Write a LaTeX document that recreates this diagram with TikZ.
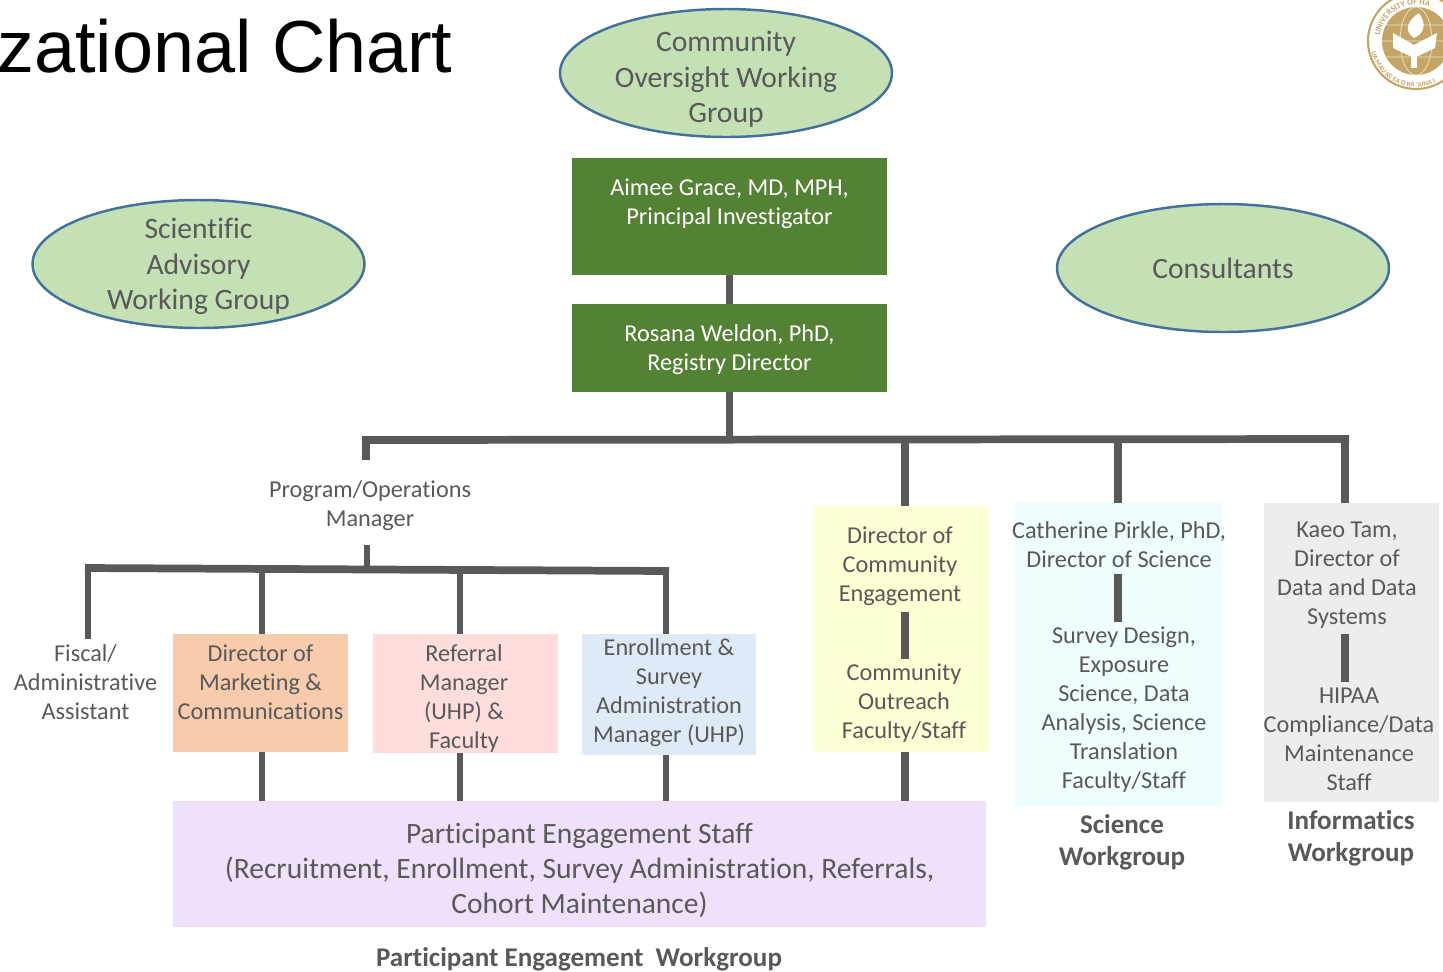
\documentclass[tikz,border=0pt]{standalone}
\usepackage{fontspec}
\setmainfont[Ligatures=NoCommon]{Carlito}
\newfontfamily\titlefont{Liberation Sans}
\usetikzlibrary{shapes.geometric,decorations.text}
\definecolor{linegray}{HTML}{595959}
\definecolor{txtgray}{HTML}{595959}
\definecolor{ovalgreen}{HTML}{C5E0B4}
\definecolor{ovalblue}{HTML}{41719C}
\definecolor{pigreen}{HTML}{548235}
\definecolor{mktorange}{HTML}{F8CBAD}
\definecolor{refpink}{HTML}{FFDDDD}
\definecolor{enrblue}{HTML}{DEEAF6}
\definecolor{comyellow}{HTML}{FFFFD5}
\definecolor{scicyan}{HTML}{F0FDFE}
\definecolor{infgray}{HTML}{EDEDED}
\definecolor{staffviolet}{HTML}{EFE1FC}
\definecolor{sealgold}{HTML}{C4A566}
\newcommand{\pxu}{*0.5691pt}
\tikzset{
  oval/.style={ellipse,draw=ovalblue,line width=1.4pt,fill=ovalgreen,minimum width=332\pxu,minimum height=128\pxu,inner sep=0pt},
  ovaltxt/.style={inner sep=0pt,text=txtgray,align=center,font=\fontsize{16.85}{20.2}\selectfont},
  txt/.style={inner xsep=0pt,inner ysep=3pt,text=txtgray,align=center,font=\fontsize{13.8}{16.5}\selectfont},
  headbox/.style={fill=pigreen,minimum width=315\pxu,inner sep=0pt},
  headtxt/.style={txt,text=white},
  colbox/.style={minimum width=#1\pxu,inner sep=0pt},
  wkgroup/.style={txt,font=\bfseries\fontsize{15.4}{18.2}\selectfont},
  bar/.style={draw=linegray,line width=4.4pt},
  thinbar/.style={draw=linegray,line width=3.4pt}
}
\begin{document}
\begin{tikzpicture}[x=0.02cm,y=-0.02cm]
                \useasboundingbox (0,0) rectangle (1443,971);
                \clip (0,0) rectangle (1443,971);
                \node[inner sep=0pt,anchor=base west,font=\titlefont\fontsize{42}{50}\selectfont] (title) at (-3,72) {zational Chart};
                \node[oval,label={[ovaltxt,yshift=-3.7pt]center:{Community\\Oversight Working\\Group}}] (oversight) at (726,73) {};
                \node[oval,label={[ovaltxt,yshift=-1.4pt]center:{Scientific\\Advisory\\Working Group}}] (advisory) at (198.5,264) {};
                \node[oval,label={[ovaltxt]center:Consultants}] (consult) at (1223,268) {};
                \node[headbox,minimum height=117\pxu,label={[headtxt,yshift=7.4pt]center:{Aimee Grace, MD, MPH,\\Principal Investigator}}] (grace) at (729.5,216.5) {};
                \node[headbox,minimum height=88\pxu,label={[headtxt,yshift=-1.2pt]center:{Rosana Weldon, PhD,\\Registry Director}}] (weldon) at (729.5,348) {};
                \node[txt] (progmgr) at (370,506) {Program/Operations\\Manager};
                \node[txt] (fiscal) at (85.5,682) {Fiscal/\\Administrative\\Assistant};
                \node[colbox=175,minimum height=118\pxu,fill=mktorange,label={[txt,yshift=6.26pt]center:{Director of\\Marketing \&\\Communications}}] (mkt) at (260.5,693) {};
                \node[colbox=185,minimum height=119\pxu,fill=refpink,label={[txt,yshift=-2.8pt,xshift=-0.85pt]center:{Referral\\Manager\\(UHP) \&\\Faculty}}] (referral) at (465.5,693.5) {};
                \node[colbox=174,minimum height=121\pxu,fill=enrblue,label={[txt,yshift=1.14pt]center:{Enrollment \&\\Survey\\Administration\\Manager (UHP)}}] (enroll) at (669,694.5) {};
                \node[colbox=175,minimum height=246\pxu,fill=comyellow] (combox) at (901.5,629) {};
                \node[colbox=209,minimum height=304\pxu,fill=scicyan] (scibox) at (1118.5,655) {};
                \node[colbox=175,minimum height=299\pxu,fill=infgray] (infbox) at (1351.5,652.5) {};
                \node[txt] (comdir) at (900,566.5) {Director of\\Community\\Engagement};
                \node[txt] (comfac) at (904,703.5) {Community\\Outreach\\Faculty/Staff};
                \node[txt] (scidir) at (1119,545) {Catherine Pirkle, PhD,\\Director of Science};
                \node[txt] (scifac) at (1124,710) {Survey Design,\\Exposure\\Science, Data\\Analysis, Science\\Translation\\Faculty/Staff};
                \node[txt] (infdir) at (1347,575) {Kaeo Tam,\\Director of\\Data and Data\\Systems};
                \node[txt] (inffac) at (1349,739) {HIPAA\\Compliance/Data\\Maintenance\\Staff};
                \node[colbox=813,minimum height=126\pxu,fill=staffviolet,label={[txt,yshift=-3.7pt,font=\fontsize{16.8}{20}\selectfont]center:{Participant Engagement Staff\\(Recruitment, Enrollment, Survey Administration, Referrals,\\Cohort Maintenance)}}] (staff) at (579.5,864) {};
                \node[wkgroup] (sciwg) at (1122,842) {Science\\Workgroup};
                \node[wkgroup] (infwg) at (1351,838) {Informatics\\Workgroup};
                \node[wkgroup] (staffwg) at (579,959) {Participant Engagement\ \ Workgroup};
                \coordinate (buswest) at (362,440);
                \coordinate (buseast) at (1349,439);
                \coordinate (lowwest) at (85,568);
                \coordinate (loweast) at (669,571);
                \coordinate (progtop) at (366,460);
                \coordinate (progbot) at (367,545);
                \coordinate (tapfiscal) at (88,569);
                \coordinate (tapmkt) at (262,569);
                \coordinate (tapref) at (460,570);
                \coordinate (tapenr) at (666,571);
                \coordinate (tapcom) at (905,440);
                \coordinate (tapsci) at (1118,440);
                \coordinate (tapinf) at (1345,440);
                \draw[bar] (grace) -- (weldon);
                \draw[bar] (weldon.south) -- (weldon.south |- buswest);
                \draw[bar] (buswest) -- (buseast);
                \draw[bar] (buswest -| progtop) -- (progtop);
                \draw[thinbar] (progbot) -- (progbot |- lowwest);
                \draw[bar] (lowwest) -- (loweast);
                \draw[thinbar] (tapfiscal) -- (tapfiscal |- fiscal.north);
                \draw[thinbar] (tapmkt) -- (tapmkt |- mkt.north);
                \draw[thinbar] (tapref) -- (tapref |- referral.north);
                \draw[thinbar] (tapenr) -- (tapenr |- enroll.north);
                \draw[thinbar] (tapmkt |- mkt.south) -- (tapmkt |- staff.north);
                \draw[thinbar] (tapref |- referral.south) -- (tapref |- staff.north);
                \draw[thinbar] (tapenr |- enroll.south) -- (tapenr |- staff.north);
                \draw[bar] (tapcom) -- (tapcom |- combox.north);
                \draw[bar] (tapsci) -- (tapsci |- scibox.north);
                \draw[bar] (tapinf) -- (tapinf |- infbox.north);
                \draw[bar] (tapcom |- combox.south) -- (tapcom |- staff.north);
                \draw[bar] (tapcom |- comdir.south) -- (tapcom |- comfac.north);
                \draw[bar] (tapsci |- scidir.south) -- (tapsci |- scifac.north);
                \draw[bar] (tapinf |- infdir.south) -- (tapinf |- inffac.north);
                \coordinate (seal) at (1416,41);
                \draw[sealgold,line width=1.2pt,fill=white] (seal) circle (48);
                \fill[sealgold] (seal) circle (34);
                \draw[white!70!sealgold,line width=0.4pt] (seal) ellipse (16 and 34) (1382,41) -- (1450,41) (1386,25) -- (1446,25) (1386,57) -- (1446,57);
                \fill[white] (1393,33) -- (1414,45) -- (1437,33) -- (1435,48) -- (1414,58) -- (1393,48) -- cycle;
                \fill[white] (1411,45) rectangle (1417,68);
                \fill[white] (1419,13) .. controls (1405,22) and (1405,32) .. (1414,38) .. controls (1424,34) and (1427,24) .. (1419,13);
                \path[decorate,decoration={text along path,text={|\fontsize{4.8}{6}\selectfont\bfseries\color{sealgold}|UNIVERSITY OF HA}}] (seal) ++(188:36.5) arc[start angle=188,end angle=335,radius=36.5];
                \path[decorate,decoration={text along path,text={|\fontsize{4}{5}\selectfont\bfseries\color{sealgold}|UA MAU KE EA O KA ‘AINA I}}] (seal) ++(166:46) arc[start angle=166,end angle=30,radius=46];
\end{tikzpicture}
\end{document}
